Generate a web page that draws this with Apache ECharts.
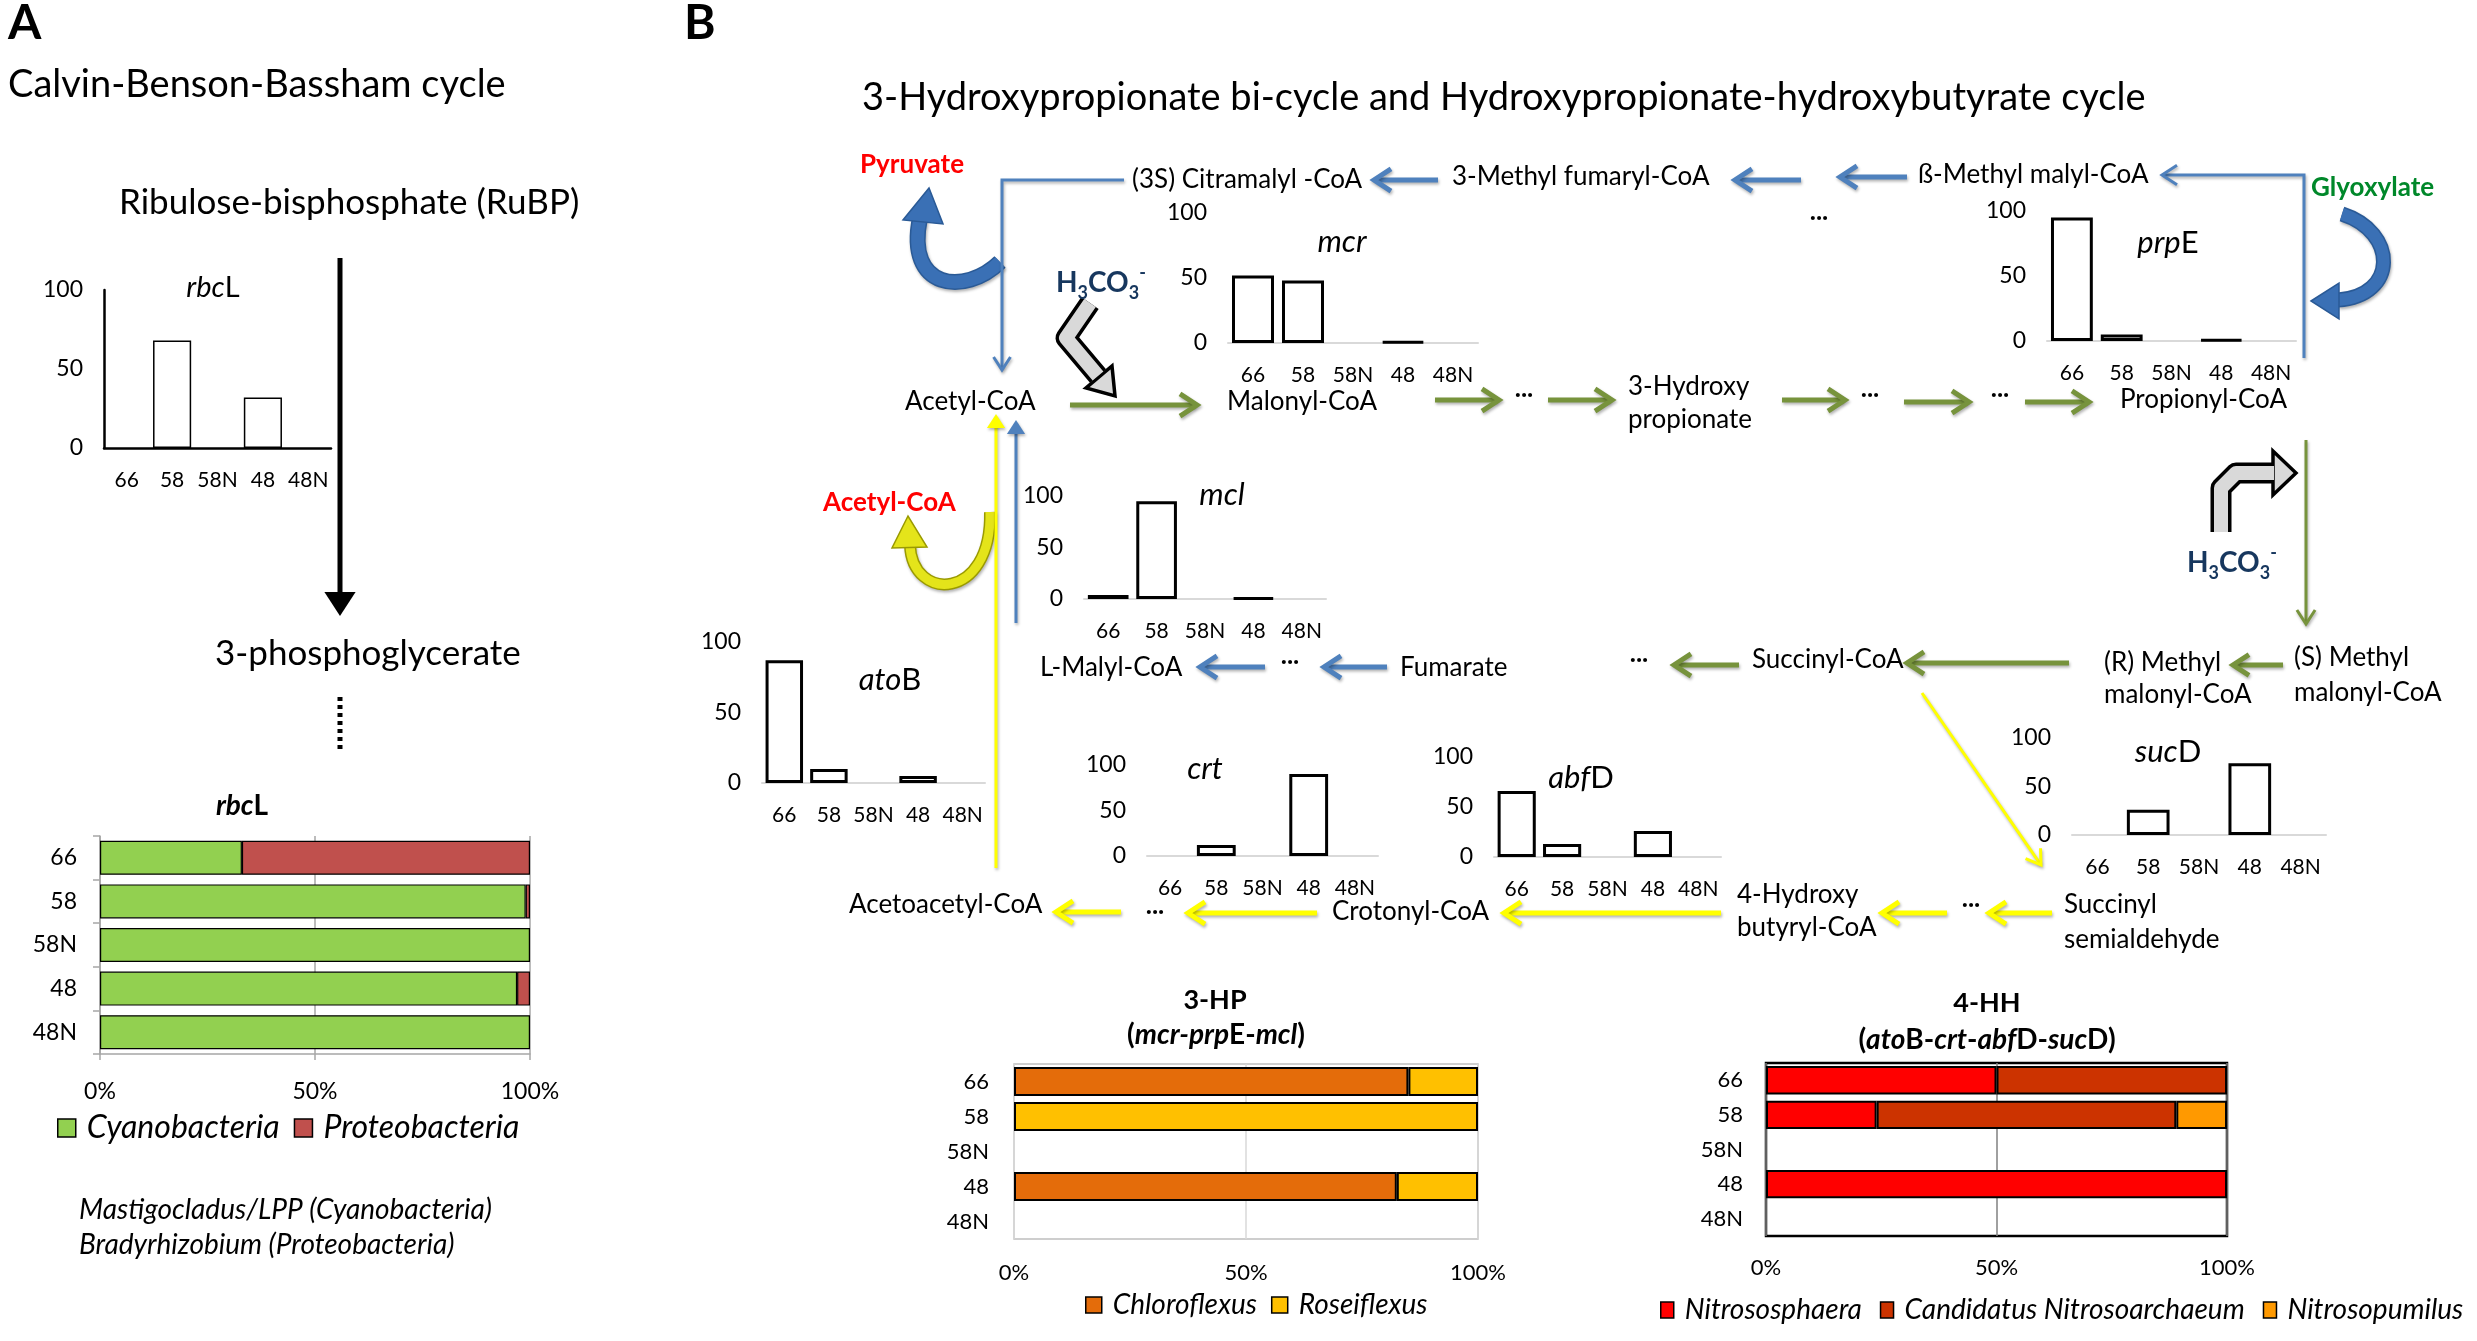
<!DOCTYPE html>
<html>
<head>
<meta charset="utf-8">
<script src="https://cdn.jsdelivr.net/npm/echarts@6.0.0/dist/echarts.min.js"></script>
<style>
  html, body { margin: 0; padding: 0; background: #fff; }
  #chart-container { width: 2477px; height: 1341px; }
</style>
</head>
<body>
<div id="chart-container"></div>
<script>
// ---- data ----
var categories = ['66', '58', '58N', '48', '48N'];

var rbcL = [0, 68, 0, 32, 0];
var mcr = [52, 48, 0, 1, 0];
var prpE = [95, 5, 0, 1, 0];
var mcl = [4, 95, 0, 1, 0];
var atoB = [87, 10, 0, 5, 0];
var crt = [0, 12, 0, 90, 0];
var abfD = [66, 13, 0, 26, 0];
var sucD = [0, 26, 0, 74, 0];

var rbcLCyanobacteria = [33, 99, 100, 97, 100];
var rbcLProteobacteria = [67, 1, 0, 3, 0];

var hpChloroflexus = [85, 0, 0, 82.5, 0];
var hpRoseiflexus = [15, 100, 0, 17.5, 0];

var hhNitrososphaera = [50, 24, 0, 100, 0];
var hhCandidatus = [50, 65, 0, 0, 0];
var hhNitrosopumilus = [0, 11, 0, 0, 0];

var FONT = 'Lato';
var BLUE = '#4f81bd', GREEN = '#77933c', YELLOW = '#ffff00';

var dom = document.getElementById('chart-container');
var myChart = echarts.init(dom, null, { renderer: 'canvas' });

function blank(v) { return v === 0 ? '-' : v; }

// ---- layout of the small charts ----
var vCharts = [
  { data: rbcL, rect: [104, 290, 227, 158], axes: true },
  { data: mcr, rect: [1228, 213, 250, 130] },
  { data: prpE, rect: [2047, 211, 249, 130] },
  { data: mcl, rect: [1084, 496, 242, 103] },
  { data: atoB, rect: [762, 642, 223, 141] },
  { data: crt, rect: [1147, 765, 231, 91] },
  { data: abfD, rect: [1494, 757, 227, 100] },
  { data: sucD, rect: [2072, 738, 254, 97] }
];

var hCharts = [
  { rect: [100, 836, 430, 218], kind: 'rbcl', gap: '22%', font: 23, xMargin: 26, yMargin: 23,
    series: [['Cyanobacteria', rbcLCyanobacteria, '#92d050'], ['Proteobacteria', rbcLProteobacteria, '#c0504d']] },
  { rect: [1014, 1064, 464, 175], kind: 'hp', gap: '17%', font: 22, xMargin: 23, yMargin: 25,
    series: [['Chloroflexus', hpChloroflexus, '#e46c0a'], ['Roseiflexus', hpRoseiflexus, '#ffc000']] },
  { rect: [1766, 1063, 461, 173], kind: 'hh', gap: '18%', font: 22, xMargin: 21, yMargin: 23,
    series: [['Nitrososphaera', hhNitrososphaera, '#ff0000'], ['Candidatus Nitrosoarchaeum', hhCandidatus, '#cc3300'], ['Nitrosopumilus', hhNitrosopumilus, '#ff9900']] }
];

var grids = [], xAxes = [], yAxes = [], series = [];

vCharts.forEach(function (c) {
  var i = grids.length;
  grids.push({ left: c.rect[0], top: c.rect[1], width: c.rect[2], height: c.rect[3] });
  xAxes.push({
    type: 'category', gridIndex: i, data: categories,
    axisTick: { show: false },
    axisLine: { lineStyle: { color: c.axes ? '#000' : '#d9d9d9', width: c.axes ? 2.5 : 2 } },
    axisLabel: { interval: 0, color: '#000', fontSize: 21, fontFamily: FONT, margin: 22 }
  });
  yAxes.push({
    type: 'value', gridIndex: i, min: 0, max: 100, interval: 50,
    splitLine: { show: false }, axisTick: { show: false },
    axisLine: { show: !!c.axes, lineStyle: { color: '#000', width: 2.5 } },
    axisLabel: { color: '#000', fontSize: 23, fontFamily: FONT, margin: 21 }
  });
  series.push({
    type: 'bar', xAxisIndex: i, yAxisIndex: i, silent: true,
    data: c.data.map(blank), barCategoryGap: '16%',
    itemStyle: { color: '#fff', borderColor: '#000', borderWidth: c.axes ? 1.5 : 3 }
  });
});

hCharts.forEach(function (c) {
  var i = grids.length;
  var grid = { left: c.rect[0], top: c.rect[1], width: c.rect[2], height: c.rect[3] };
  if (c.kind === 'hp') { grid.show = true; grid.borderColor = '#bfbfbf'; grid.borderWidth = 1.5; }
  if (c.kind === 'hh') { grid.show = true; grid.borderColor = '#000'; grid.borderWidth = 2.5; }
  grids.push(grid);
  var gray = '#a6a6a6';
  xAxes.push({
    type: 'value', gridIndex: i, min: 0, max: 100, interval: 50,
    axisLine: { show: c.kind === 'rbcl', lineStyle: { color: gray, width: 1.5 } },
    axisTick: { show: c.kind === 'rbcl', length: 6, lineStyle: { color: gray, width: 1.5 } },
    splitLine: { show: true, lineStyle: { color: c.kind === 'hh' ? '#808080' : (c.kind === 'hp' ? '#d9d9d9' : gray), width: 1.5 } },
    axisLabel: { formatter: '{value}%', color: '#000', fontSize: c.font, fontFamily: FONT, margin: c.xMargin }
  });
  yAxes.push({
    type: 'category', gridIndex: i, data: categories, inverse: true,
    axisLine: { show: c.kind === 'rbcl', lineStyle: { color: gray, width: 1.5 } },
    axisTick: { show: c.kind === 'rbcl', length: 7, lineStyle: { color: gray, width: 1.5 } },
    axisLabel: { interval: 0, color: '#000', fontSize: c.font, fontFamily: FONT, margin: c.yMargin }
  });
  c.series.forEach(function (s) {
    series.push({
      type: 'bar', name: s[0], xAxisIndex: i, yAxisIndex: i, stack: 'h' + i, silent: true,
      data: s[1].map(blank), barCategoryGap: c.gap,
      itemStyle: { color: s[2], borderColor: '#000', borderWidth: c.kind === 'rbcl' ? 1.2 : 2 }
    });
  });
});

// ---- diagram: text and arrows ----
var els = [];
function add(a) { els = els.concat(a); }

function txt(x, y, s, o) {
  return {
    type: 'text', x: x, y: y, z: 100,
    style: Object.assign({
      text: s, fontSize: 26, fontFamily: FONT, fill: '#000',
      align: 'left', verticalAlign: 'middle'
    }, o || {})
  };
}
function rtxt(x, y, s, size, weight) {
  return txt(x, y, s, {
    fontSize: size, fontWeight: weight || 'normal', align: 'center',
    rich: {
      i: { fontStyle: 'italic', fontSize: size, fontFamily: FONT, fontWeight: weight || 'normal' },
      n: { fontSize: size, fontFamily: FONT, fontWeight: weight || 'normal' }
    }
  });
}
function bicarb(x, y) {
  return txt(x, y, '{n|H}{s|3}{n|CO}{s|3}{p|-}', {
    rich: {
      n: { fontSize: 28, fontWeight: 'bold', fontFamily: FONT, fill: '#17375e', verticalAlign: 'middle', lineHeight: 38 },
      s: { fontSize: 18, fontWeight: 'bold', fontFamily: FONT, fill: '#17375e', verticalAlign: 'bottom', lineHeight: 38 },
      p: { fontSize: 18, fontWeight: 'bold', fontFamily: FONT, fill: '#17375e', verticalAlign: 'top', lineHeight: 38 }
    }
  });
}

var shadow = { shadowColor: 'rgba(0,0,0,0.3)', shadowBlur: 3, shadowOffsetX: 1, shadowOffsetY: 2 };

function arrow(pts, color, w, L, filled, noShadow) {
  var n = pts.length, a = pts[n - 2], b = pts[n - 1];
  var dx = b[0] - a[0], dy = b[1] - a[1], len = Math.sqrt(dx * dx + dy * dy);
  var ux = dx / len, uy = dy / len, px = -uy, py = ux, W = L * 0.65;
  var p1 = [b[0] - ux * L + px * W, b[1] - uy * L + py * W];
  var p2 = [b[0] - ux * L - px * W, b[1] - uy * L - py * W];
  var shaft = pts.slice();
  if (filled) shaft[n - 1] = [b[0] - ux * L * 0.7, b[1] - uy * L * 0.7];
  else shaft[n - 1] = [b[0] - ux * 2, b[1] - uy * 2];
  var sh = noShadow ? {} : shadow;
  var out = [{ type: 'polyline', z: 50, shape: { points: shaft },
    style: Object.assign({ stroke: color, lineWidth: w, fill: null, lineJoin: 'miter' }, sh) }];
  if (filled) {
    out.push({ type: 'polygon', z: 50, shape: { points: [p1, b, p2] }, style: Object.assign({ fill: color }, sh) });
  } else {
    out.push({ type: 'polyline', z: 50, shape: { points: [p1, b, p2] },
      style: Object.assign({ stroke: color, lineWidth: w, fill: null, lineJoin: 'miter', lineCap: 'butt' }, sh) });
  }
  return out;
}

function curved(c, head, color, edge, w) {
  return [
    { type: 'bezierCurve', z: 40, shape: c, style: Object.assign({ stroke: edge, lineWidth: w + 3, fill: null }, shadow) },
    { type: 'bezierCurve', z: 41, shape: c, style: { stroke: color, lineWidth: w, fill: null } },
    { type: 'polygon', z: 42, shape: { points: head }, style: { fill: color, stroke: edge, lineWidth: 1.5 } }
  ];
}

function bent(pts, headPts) {
  return [
    { type: 'polyline', z: 40, shape: { points: pts }, style: { stroke: '#000', lineWidth: 21, fill: null, lineJoin: 'round' } },
    { type: 'polygon', z: 41, shape: { points: headPts }, style: { fill: '#d9d9d9', stroke: '#000', lineWidth: 3.5, lineJoin: 'miter' } },
    { type: 'polyline', z: 42, shape: { points: pts }, style: { stroke: '#d9d9d9', lineWidth: 14, fill: null, lineJoin: 'round' } }
  ];
}

// Panel A
add(txt(8, 24, 'A', { fontSize: 48, fontWeight: 'bold' }));
add(txt(8, 85, 'Calvin-Benson-Bassham cycle', { fontSize: 38 }));
add(txt(119, 203, 'Ribulose-bisphosphate (RuBP)', { fontSize: 35 }));
add(rtxt(213, 288, '{i|rbc}{n|L}', 29));
add(arrow([[340, 258], [340, 616]], '#000', 5, 24, true, true));
add(txt(215, 654, '3-phosphoglycerate', { fontSize: 35 }));
add({ type: 'line', z: 50, shape: { x1: 340, y1: 697, x2: 340, y2: 752 }, style: { stroke: '#000', lineWidth: 5, lineDash: [4, 4] } });
add(rtxt(242, 806, '{i|rbc}{n|L}', 28, 'bold'));
add(txt(79, 1210, 'Mastigocladus/LPP (Cyanobacteria)', { fontSize: 28, fontStyle: 'italic' }));
add(txt(79, 1245, 'Bradyrhizobium (Proteobacteria)', { fontSize: 28, fontStyle: 'italic' }));

// Panel B
add(txt(684, 24, 'B', { fontSize: 48, fontWeight: 'bold' }));
add(txt(862, 98, '3-Hydroxypropionate bi-cycle and Hydroxypropionate-hydroxybutyrate cycle', { fontSize: 38 }));

var labels = [
  ['(3S) Citramalyl -CoA', 1132, 180], ['3-Methyl fumaryl-CoA', 1452, 177], ['ß-Methyl malyl-CoA', 1918, 175],
  ['Acetyl-CoA', 905, 402], ['Malonyl-CoA', 1227, 402], ['3-Hydroxy', 1628, 387], ['propionate', 1628, 420],
  ['Propionyl-CoA', 2120, 400], ['(R) Methyl', 2104, 663], ['malonyl-CoA', 2104, 695],
  ['(S) Methyl', 2294, 658], ['malonyl-CoA', 2294, 693], ['Succinyl-CoA', 1752, 660],
  ['Fumarate', 1400, 668], ['L-Malyl-CoA', 1040, 668], ['Succinyl', 2064, 905], ['semialdehyde', 2064, 940],
  ['4-Hydroxy', 1737, 895], ['butyryl-CoA', 1737, 928], ['Crotonyl-CoA', 1332, 912], ['Acetoacetyl-CoA', 849, 905]
];
labels.forEach(function (l) { add(txt(l[1], l[2], l[0])); });
add(txt(860, 165, 'Pyruvate', { fill: '#ff0000', fontWeight: 'bold' }));
add(txt(2311, 188, 'Glyoxylate', { fill: '#00882a', fontWeight: 'bold' }));
add(txt(823, 503, 'Acetyl-CoA', { fill: '#ff0000', fontWeight: 'bold' }));
add(bicarb(1056, 283));
add(bicarb(2187, 563));

var dots = [[1819, 218], [1524, 395], [1870, 395], [2000, 395], [1639, 660], [1290, 662], [1971, 905], [1155, 912]];
dots.forEach(function (d) { add(txt(d[0], d[1] - 6, '...', { align: 'center', fontWeight: 'bold', fontSize: 26 })); });

// gene titles
add(rtxt(1342, 242, '{i|mcr}', 31));
add(rtxt(2168, 243, '{i|prp}{n|E}', 31));
add(rtxt(1222, 495, '{i|mcl}', 31));
add(rtxt(890, 680, '{i|ato}{n|B}', 31));
add(rtxt(1205, 769, '{i|crt}', 31));
add(rtxt(1581, 778, '{i|abf}{n|D}', 31));
add(rtxt(2168, 752, '{i|suc}{n|D}', 31));
add(rtxt(1215, 1000, '{n|3-HP}', 27, 'bold'));
add(rtxt(1216, 1035, '{n|(}{i|mcr-prp}{n|E-}{i|mcl}{n|)}', 28, 'bold'));
add(rtxt(1987, 1003, '{n|4-HH}', 27, 'bold'));
add(rtxt(1987, 1040, '{n|(}{i|ato}{n|B-}{i|crt}{n|-}{i|abf}{n|D-}{i|suc}{n|D)}', 28, 'bold'));

// blue arrows
add(arrow([[1124, 180], [1002, 180], [1002, 370]], BLUE, 3, 13));
add(arrow([[1438, 180], [1374, 180]], BLUE, 5, 17));
add(arrow([[1801, 180], [1735, 180]], BLUE, 5, 17));
add(arrow([[1907, 177], [1840, 177]], BLUE, 5, 17));
add(arrow([[2304, 358], [2304, 175], [2162, 175]], BLUE, 3, 15));
add(arrow([[1016, 623], [1016, 420]], BLUE, 3, 14, true));
add(arrow([[1265, 667], [1200, 667]], BLUE, 5, 17));
add(arrow([[1387, 667], [1324, 667]], BLUE, 5, 17));
// green arrows
add(arrow([[1070, 405], [1197, 405]], GREEN, 5, 17));
add(arrow([[1435, 400], [1499, 400]], GREEN, 5, 17));
add(arrow([[1548, 400], [1612, 400]], GREEN, 5, 17));
add(arrow([[1782, 400], [1845, 400]], GREEN, 5, 17));
add(arrow([[1904, 402], [1969, 402]], GREEN, 5, 17));
add(arrow([[2025, 402], [2089, 402]], GREEN, 5, 17));
add(arrow([[2306, 440], [2306, 624]], GREEN, 3, 14));
add(arrow([[2283, 665], [2233, 665]], GREEN, 5, 16));
add(arrow([[2069, 663], [1907, 663]], GREEN, 5, 17));
add(arrow([[1739, 665], [1674, 665]], GREEN, 5, 17));
// yellow arrows
add(arrow([[1121, 912], [1056, 912]], YELLOW, 5, 17));
add(arrow([[1317, 913], [1188, 913]], YELLOW, 5, 17));
add(arrow([[1721, 913], [1504, 913]], YELLOW, 5, 17));
add(arrow([[1947, 913], [1882, 913]], YELLOW, 5, 17));
add(arrow([[2052, 913], [1989, 913]], YELLOW, 5, 17));
add(arrow([[1922, 693], [2041, 865]], YELLOW, 3, 14));
add(arrow([[996, 868], [996, 414]], YELLOW, 3, 14, true));

// curved arrows
add(curved({ x1: 1000, y1: 262, cpx1: 965, cpy1: 296, cpx2: 905, cpy2: 290, x2: 920, y2: 218 },
  [[929, 188], [903, 220], [943, 224]], '#3a70b5', '#2a5a96', 13));
add(curved({ x1: 2342, y1: 214, cpx1: 2398, cpy1: 232, cpx2: 2398, cpy2: 296, x2: 2338, y2: 300 },
  [[2311, 301], [2339, 283], [2339, 319]], '#3a70b5', '#2a5a96', 12));
add(curved({ x1: 990, y1: 512, cpx1: 992, cpy1: 602, cpx2: 912, cpy2: 602, x2: 910, y2: 545 },
  [[908, 516], [892, 548], [927, 547]], '#e4e41a', '#9a9a00', 9));

// grey carbonate arrows
add(bent([[1090, 303], [1066, 338], [1098, 376]], [[1115, 396], [1112, 366], [1086, 388]]));
add(bent([[2221, 532], [2221, 488], [2236, 473], [2274, 473]], [[2296, 473], [2273, 451], [2273, 495]]));

var legendText = { color: '#000', fontFamily: FONT, fontStyle: 'italic', padding: [0, 0, 0, 6] };

var option = {
  backgroundColor: '#fff',
  animation: false,
  grid: grids,
  xAxis: xAxes,
  yAxis: yAxes,
  series: series,
  legend: [
    { data: ['Cyanobacteria', 'Proteobacteria'], left: 57, top: 1112, padding: 0, icon: 'rect',
      itemWidth: 18, itemHeight: 18, itemGap: 14, selectedMode: false,
      itemStyle: { borderColor: '#000', borderWidth: 1.5 },
      textStyle: Object.assign({ fontSize: 32 }, legendText) },
    { data: ['Chloroflexus', 'Roseiflexus'], left: 1085, top: 1291, padding: 0, icon: 'rect',
      itemWidth: 16, itemHeight: 16, itemGap: 14, selectedMode: false,
      itemStyle: { borderColor: '#000', borderWidth: 1.5 },
      textStyle: Object.assign({ fontSize: 28 }, legendText) },
    { data: ['Nitrososphaera', 'Candidatus Nitrosoarchaeum', 'Nitrosopumilus'], left: 1660, top: 1296, padding: 0, icon: 'rect',
      itemWidth: 13, itemHeight: 16, itemGap: 18, selectedMode: false,
      itemStyle: { borderColor: '#000', borderWidth: 1.5 },
      textStyle: Object.assign({ fontSize: 28 }, legendText) }
  ],
  graphic: { elements: els }
};

myChart.setOption(option);
window.addEventListener('resize', myChart.resize);
</script>
</body>
</html>
